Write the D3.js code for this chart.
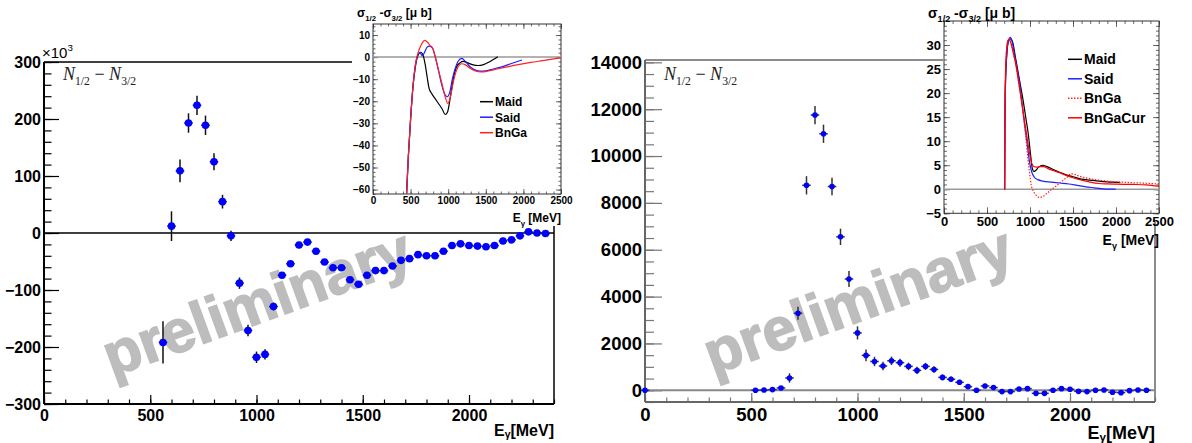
<!DOCTYPE html>
<html>
<head>
<meta charset="utf-8">
<script src="https://cdn.jsdelivr.net/npm/d3@7"></script>
<style>
body { margin: 0; background: #fff; }
svg { display: block; font-family: "Liberation Sans", Arial, sans-serif; }
</style>
</head>
<body>
<div id="chart"></div>
<script>
// ---- data ----
var leftE = [560,600,640,680,720,760,800,840,880,920,960,1000,1040,1080,1120,1160,1200,1240,1280,1320,
  1360,1400,1440,1480,1520,1560,1600,1640,1680,1720,1760,1800,1840,1880,1920,1960,2000,2040,2080,2120,
  2160,2200,2240,2280,2320,2360];
var leftN = [-192,12,109,193,224,189,125,55,-5,-88,-171,-218,-213,-129,-74,-54,-21,-16,-32,-51,
  -61,-61,-82,-90,-74,-66,-66,-58,-48,-45,-38,-40,-40,-32,-22,-19,-22,-23,-24,-22,
  -14,-12,-5,2,0,-1];
var leftErr = [37,26,20,17,17,17,15,12,9,10,10,10,9,7,5,5,4,4,4,4,
  4,4,4,4,4,4,4,4,3,3,3,3,3,3,3,3,3,3,3,3,
  3,3,3,3,3,3];

var rightE = [0,520,560,600,640,680,720,760,800,840,880,920,960,1000,1040,1080,1120,1160,1200,1240,
  1280,1320,1360,1400,1440,1480,1520,1560,1600,1640,1680,1720,1760,1800,1840,1880,1920,1960,2000,2040,
  2080,2120,2160,2200,2240,2280,2320,2360];
var rightN = [0,0,10,30,100,525,3290,8750,11750,10950,8700,6550,4750,2450,1490,1230,1035,1260,1180,1020,
  850,1020,890,550,470,340,155,0,185,115,-55,-55,55,70,-130,-130,0,70,45,-45,
  -55,0,15,-85,-100,-15,15,0];
var rightErr = [0,20,20,25,40,200,280,390,390,390,370,350,340,280,250,200,180,180,170,160,
  150,150,140,120,120,110,100,90,90,80,80,80,80,80,80,80,80,80,80,80,
  80,80,80,80,80,80,80,80];

var xTicksMain = [0,500,1000,1500,2000];
var yTicksLeft = [-300,-200,-100,0,100,200,300];
var yTicksRight = [0,2000,4000,6000,8000,10000,12000,14000];

// left inset curves  [E, sigma]
var maidL = [[445,-63],[470,-45],[500,-28],[530,-14],[560,-5],[595,0.5],[635,2.2],[665,1],[695,-3.5],[720,-9],
  [745,-14],[780,-16.5],[820,-18.5],[870,-21],[920,-23.5],[960,-26],[990,-25],[1015,-21],[1040,-15.5],[1070,-9.5],
  [1110,-4.5],[1160,-2.5],[1200,-1.9],[1250,-2.5],[1320,-3.4],[1400,-3.8],[1470,-3.4],[1540,-2.3],[1600,-1.1],[1660,0.2]];
var saidL = [[445,-63],[470,-45],[500,-28],[530,-14],[560,-5],[595,1],[625,2],[655,0.5],[690,2.5],[720,4.5],
  [750,5],[790,4.2],[830,0],[870,-6],[910,-12],[950,-16.5],[985,-18],[1020,-16],[1055,-10],[1090,-5.5],
  [1130,-2],[1180,-0.6],[1230,-2],[1280,-4],[1340,-5.5],[1420,-6.3],[1500,-6.2],[1600,-5.4],[1700,-4.5],[1800,-3.4],
  [1900,-2.2],[1980,-1.3]];
var bngaL = [[445,-63],[470,-45],[500,-28],[530,-14],[560,-4],[600,2],[640,5.5],[690,7.6],[730,6.5],[760,5.2],
  [790,4.2],[820,1],[850,-3],[880,-7],[920,-12.5],[960,-18],[995,-21],[1030,-18],[1070,-11],[1110,-6],
  [1150,-3.5],[1180,-3],[1230,-3.5],[1290,-5],[1360,-6.3],[1440,-6.7],[1520,-6.4],[1650,-5.4],[1800,-4.3],[1950,-3.3],
  [2100,-2.4],[2250,-1.6],[2400,-0.8],[2500,-0.3]];

// right inset curves
var maidR = [[705,0],[708,12],[715,22],[730,28],[750,30.8],[775,31.3],[800,30.5],[830,27.5],[860,24.5],[890,21.5],
  [920,18.5],[950,15],[980,11.5],[1005,7.5],[1025,4.5],[1045,3.7],[1065,3.9],[1100,4.6],[1150,5],[1200,4.7],
  [1270,4.1],[1350,3.5],[1420,3],[1500,2.6],[1600,2.1],[1700,1.9],[1800,1.7],[1900,1.55],[2000,1.45],[2050,1.4]];
var saidR = [[705,0],[708,12],[715,22],[730,28],[750,31],[772,31.6],[795,30.5],[820,28],[850,25],[880,22],
  [910,17.5],[940,13],[970,9],[995,5.6],[1020,3.6],[1050,2.5],[1090,2],[1150,1.7],[1250,1.5],[1350,1.3],
  [1450,1.1],[1550,0.8],[1650,0.5],[1750,0.3],[1850,0.1],[1950,0.02],[2000,0]];
var bngaR = [[705,0],[708,14],[715,24],[730,29.5],[745,31],[757,31.2],[780,30.3],[810,28],[840,25.5],[870,22],
  [900,18.5],[925,15],[950,11],[975,6.5],[995,3.4],[1015,0.8],[1040,-0.4],[1070,-1.2],[1110,-1.7],[1150,-1.5],
  [1200,-0.8],[1260,0.1],[1320,0.9],[1380,1.8],[1430,2.5],[1480,3.2],[1520,3.1],[1560,2.8],[1620,2.5],[1700,2.2],
  [1800,1.9],[1900,1.7],[2000,1.55],[2100,1.45],[2200,1.35],[2300,1.3],[2400,1.2],[2500,1.1]];
var bngaCurR = [[705,0],[708,14],[715,24],[730,29.5],[745,31],[757,31.2],[780,30.3],[810,28],[840,25.5],[870,22],
  [900,18.5],[930,15],[960,11.5],[990,8],[1015,5.7],[1040,4.8],[1080,4.6],[1120,4.7],[1160,4.7],[1210,4.3],
  [1270,3.9],[1350,3.4],[1420,2.9],[1500,2.4],[1600,1.9],[1700,1.5],[1800,1.2],[1900,1.1],[2000,1.05],[2200,1.0],
  [2350,0.9],[2500,0.6]];

var svg = d3.select("#chart").append("svg")
    .attr("width", 1192)
    .attr("height", 443);

var fmt = d3.format("d");

// text with sub/superscripts: parts = [[text, "sub"|"sup"|null, italic]]
function rich(t, parts, fs, subShift) {
  var shift = 0;
  subShift = subShift || 0.3;
  parts.forEach(function(p) {
    var target = p[1] == "sub" ? subShift * fs : p[1] == "sup" ? -0.45 * fs : 0;
    var ts = t.append("tspan").text(p[0]).attr("dy", target - shift);
    if (p[1]) ts.attr("font-size", (0.65 * fs) + "px");
    if (p[2]) ts.attr("font-style", "italic");
    shift = target;
  });
}

function line(g, x1, y1, x2, y2, col, w) {
  g.append("line").attr("x1", x1).attr("y1", y1).attr("x2", x2).attr("y2", y2)
    .attr("stroke", col).attr("stroke-width", w);
}

function mainPlot(o) {
  var g = svg.append("g");
  var x = d3.scaleLinear().domain([0, 2400]).range([o.left, o.right]);
  var y = d3.scaleLinear().domain(o.ydom).range([o.bottom, o.top]);

  // watermark
  g.append("text")
    .attr("transform", "translate(" + (o.left + 68) + "," + (o.bottom - 27) + ") rotate(-20)")
    .attr("font-size", "60px").attr("font-weight", "bold")
    .attr("fill", "#bdbdbd").attr("stroke", "#bdbdbd").attr("stroke-width", 1.6)
    .text("preliminary");

  // minor + major ticks, inward
  var ax = [
    d3.axisLeft(y).tickValues(o.yMinor).tickSize(-o.yMinLen).tickFormat(""),
    d3.axisLeft(y).tickValues(o.yTicks).tickSize(-o.yMajLen).tickPadding(3).tickFormat(fmt)
  ];
  ax.forEach(function(a) {
    g.append("g").attr("transform", "translate(" + o.left + ",0)").call(a)
      .call(function(s) { s.select(".domain").remove(); });
  });
  var bx = [
    d3.axisBottom(x).tickValues(d3.range(0, 2401, 100)).tickSize(-4.5).tickFormat(""),
    d3.axisBottom(x).tickValues(xTicksMain).tickSize(-9).tickPadding(o.xPad).tickFormat(fmt)
  ];
  bx.forEach(function(a) {
    g.append("g").attr("transform", "translate(0," + o.bottom + ")").call(a)
      .call(function(s) { s.select(".domain").remove(); });
  });
  g.selectAll(".tick line").attr("stroke", o.tickCol).attr("stroke-width", 1.2);
  g.selectAll(".tick text").attr("font-size", o.fs + "px").attr("font-weight", "bold")
    .attr("font-family", "'Liberation Sans', Arial, sans-serif").attr("fill", "#000");

  // frame
  line(g, o.left, o.top, o.right, o.top, o.frameCol, 1.5);
  line(g, o.right, o.top, o.right, o.bottom, o.frameCol, 1.5);
  line(g, o.left, o.top, o.left, o.bottom, o.frameCol, 2);
  line(g, o.left, o.bottom, o.right, o.bottom, o.frameCol, 2);
  line(g, o.left, y(0), o.right, y(0), o.zeroCol, o.zeroW);

  // title N1/2 - N3/2
  var tt = g.append("text").attr("x", o.left + 19).attr("y", 80)
    .attr("font-family", "'Liberation Serif', 'DejaVu Serif', serif").attr("font-size", "18px").attr("fill", "#222");
  rich(tt, [["N", null, true], ["1/2", "sub"], [" \u2212 ", null], ["N", null, true], ["3/2", "sub"]], 18);

  // axis title
  var at = g.append("text").attr("x", o.right).attr("y", o.tY).attr("text-anchor", "end")
    .attr("font-size", o.tFs + "px").attr("font-weight", "bold");
  rich(at, [["E"], ["\u03b3", "sub"], ["[MeV]"]], o.tFs, 0.15);

  // data points
  var pts = g.selectAll(".pt").data(o.E).enter().append("g");
  pts.append("line")
    .attr("x1", function(d) { return x(d); })
    .attr("x2", function(d) { return x(d); })
    .attr("y1", function(d, i) { return y(o.N[i] - o.err[i]); })
    .attr("y2", function(d, i) { return y(o.N[i] + o.err[i]); })
    .attr("stroke", o.errCol).attr("stroke-width", 1.5);
  pts.append("line")
    .attr("x1", function(d) { return x(d - 20); })
    .attr("x2", function(d) { return x(d + 20); })
    .attr("y1", function(d, i) { return y(o.N[i]); })
    .attr("y2", function(d, i) { return y(o.N[i]); })
    .attr("stroke", o.errCol).attr("stroke-width", 1.5);
  pts.append("circle")
    .attr("cx", function(d) { return x(d); })
    .attr("cy", function(d, i) { return y(o.N[i]); })
    .attr("r", o.r)
    .attr("fill", "#0000ff");
  return g;
}

var leftG = mainPlot({
  left: 44, right: 554, top: 62, bottom: 404, ydom: [-300, 300],
  yTicks: yTicksLeft, yMinor: d3.range(-300, 301, 20), yMajLen: 15, yMinLen: 7.5,
  xPad: 6, fs: 16, tFs: 16, tY: 436, tickCol: "#000", frameCol: "#000", zeroCol: "#000", zeroW: 1.5,
  E: leftE, N: leftN, err: leftErr, errCol: "#111", r: 3.8
});
var xt = leftG.append("text").attr("x", 42).attr("y", 58).attr("font-size", "15px");
rich(xt, [["\u00d710"], ["3", "sup"]], 15);

mainPlot({
  left: 645, right: 1155, top: 60, bottom: 402, ydom: [-500, 14100],
  yTicks: yTicksRight, yMinor: d3.range(-500, 14001, 500), yMajLen: 17, yMinLen: 9,
  xPad: 6, fs: 18.5, tFs: 18, tY: 438.5, tickCol: "#777", frameCol: "#666", zeroCol: "#888", zeroW: 2,
  E: rightE, N: rightN, err: rightErr, errCol: "#333", r: 2.8
});

function inset(o) {
  var g = svg.append("g");
  g.append("rect").attr("x", o.pad[0]).attr("y", o.pad[1]).attr("width", o.pad[2]).attr("height", o.pad[3])
    .attr("fill", "#fff");
  var x = d3.scaleLinear().domain([0, 2500]).range([o.left, o.right]);
  var y = d3.scaleLinear().domain(o.ydom).range([o.bottom, o.top]);

  var sides = [
    [d3.axisLeft, o.left, true, y], [d3.axisRight, o.right, true, y],
    [d3.axisBottom, o.bottom, false, x], [d3.axisTop, o.top, false, x]
  ];
  sides.forEach(function(s, k) {
    var sc = s[3];
    var minor = s[2] ? o.yMinor : d3.range(0, 2501, 100);
    var major = s[2] ? o.yTicks : [0, 500, 1000, 1500, 2000, 2500];
    var tr = s[2] ? "translate(" + s[1] + ",0)" : "translate(0," + s[1] + ")";
    g.append("g").attr("transform", tr)
      .call(s[0](sc).tickValues(minor).tickSize(-o.tl / 2).tickFormat(""))
      .call(function(a) { a.select(".domain").remove(); });
    var a2 = s[0](sc).tickValues(major).tickSize(-o.tl).tickPadding(o.pad2).tickFormat(fmt);
    if (k % 2 == 1) a2.tickFormat("");
    g.append("g").attr("transform", tr).call(a2)
      .call(function(a) { a.select(".domain").remove(); });
  });
  g.selectAll(".tick line").attr("stroke", "#444").attr("stroke-width", 0.8);
  g.selectAll(".tick text").attr("font-size", o.fs + "px").attr("font-weight", "bold")
    .attr("font-family", "'Liberation Sans', Arial, sans-serif").attr("fill", "#000");

  g.append("rect").attr("x", o.left).attr("y", o.top)
    .attr("width", o.right - o.left).attr("height", o.bottom - o.top)
    .attr("fill", "none").attr("stroke", "#333").attr("stroke-width", 1);
  line(g, o.left, y(0), o.right, y(0), "#999", 1.5);

  var cid = "clip" + o.left;
  g.append("clipPath").attr("id", cid).append("rect")
    .attr("x", o.left).attr("y", o.top).attr("width", o.right - o.left).attr("height", o.bottom - o.top);
  var path = d3.line()
    .x(function(d) { return x(d[0]); })
    .y(function(d) { return y(d[1]); })
    .curve(d3.curveMonotoneX);
  o.curves.forEach(function(c) {
    g.append("path").datum(c.data).attr("d", path)
      .attr("clip-path", "url(#" + cid + ")")
      .attr("fill", "none").attr("stroke", c.col).attr("stroke-width", 1.2)
      .attr("stroke-dasharray", c.dash || null);
  });

  // legend
  o.curves.forEach(function(c, i) {
    var ly = o.leg[1] + i * o.leg[2];
    g.append("line").attr("x1", o.leg[0]).attr("x2", o.leg[0] + o.leg[3]).attr("y1", ly).attr("y2", ly)
      .attr("stroke", c.col).attr("stroke-width", 1.5).attr("stroke-dasharray", c.dash || null);
    g.append("text").attr("x", o.leg[0] + o.leg[3] + 2).attr("y", ly).attr("dy", "0.36em")
      .attr("font-size", o.legFs + "px").attr("font-weight", "bold").text(c.name);
  });

  var tt = g.append("text").attr("x", o.title[0]).attr("y", o.title[1])
    .attr("font-size", o.titleFs + "px").attr("font-weight", "bold");
  rich(tt, [["\u03c3"], ["1/2", "sub"], [" -\u03c3"], ["3/2", "sub"], [" [\u03bc b]"]], o.titleFs);

  var et = g.append("text").attr("x", o.right).attr("y", o.etitle).attr("text-anchor", "end")
    .attr("font-size", o.titleFs + "px").attr("font-weight", "bold");
  rich(et, [["E"], ["\u03b3", "sub"], [" [MeV]"]], o.titleFs);
}

inset({
  pad: [352, 0, 216, 226], left: 373, right: 561, top: 24, bottom: 194, ydom: [-62, 15],
  yTicks: [-60, -50, -40, -30, -20, -10, 0, 10], yMinor: d3.range(-62, 15, 2),
  tl: 5, pad2: 3, fs: 10,
  curves: [
    { name: "Maid", col: "#000", data: maidL },
    { name: "Said", col: "#2020ff", data: saidL },
    { name: "BnGa", col: "#ff2020", data: bngaL }
  ],
  leg: [480, 101.7, 15.5, 13], legFs: 12,
  title: [357, 17], titleFs: 12, etitle: 222
});

inset({
  pad: [943, 0, 249, 222], left: 944, right: 1159, top: 21, bottom: 213.3, ydom: [-5, 35],
  yTicks: [-5, 0, 5, 10, 15, 20, 25, 30], yMinor: d3.range(-5, 35, 1),
  tl: 6, pad2: 3, fs: 13,
  curves: [
    { name: "Maid", col: "#000", data: maidR },
    { name: "Said", col: "#2020ff", data: saidR },
    { name: "BnGa", col: "#ff2020", data: bngaR, dash: "1.5,1.5" },
    { name: "BnGaCur", col: "#ff0000", data: bngaCurR }
  ],
  leg: [1068, 59.3, 19.5, 14], legFs: 14,
  title: [928, 18], titleFs: 14, etitle: 245
});
</script>
</body>
</html>
